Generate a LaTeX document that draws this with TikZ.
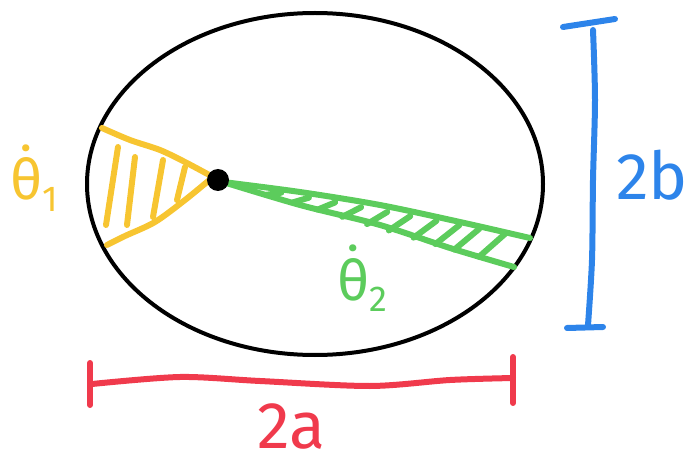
\documentclass[tikz,border=0pt]{standalone}
\usepackage{fontspec}
\setmainfont{Fira Sans}
\usetikzlibrary{calc}
\definecolor{ygold}{HTML}{F7C531}
\definecolor{lgreen}{HTML}{5CCC5C}
\definecolor{mblue}{HTML}{2D84EA}
\definecolor{mred}{HTML}{F03A4C}
\newcommand{\thdot}[1]{\.{θ}\raisebox{-12pt}{\fontsize{36}{36}\selectfont #1}}
\tikzset{
  pen/.style={line width=6pt, line cap=round, line join=round},
  lbl/.style={inner sep=0pt, text depth=0pt, font=\fontsize{66}{66}\selectfont},
  thl/.style={inner sep=0pt, font=\fontsize{56}{56}\selectfont},
}
\begin{document}
\begin{tikzpicture}[x=1pt,y=-1pt]
\useasboundingbox (0,0) rectangle (699,457);
% ellipse
\draw[line width=4pt] (315,184) ellipse [x radius=228, y radius=171];
% yellow triangle
\draw[pen, ygold] plot[smooth] coordinates {(102,128) (130,140) (160,150) (185,162) (213,177)}
  -- plot[smooth] coordinates {(213,177) (185,200) (155,222) (125,236) (107,245)};
\draw[pen, ygold] (118,147) -- (106,225);
\draw[pen, ygold] (135,157) -- (127,225);
\draw[pen, ygold] (163,160) -- (153,217);
\draw[pen, ygold] (185,167) -- (177,200);
% green ladder
\coordinate (gs) at (223,182);
\coordinate (gu) at (530,238);
\coordinate (gl) at (514,267);
\draw[pen, lgreen] plot[smooth] coordinates {(gs) (300,192) (380,205) (460,222) (gu)};
\draw[pen, lgreen] plot[smooth] coordinates {(gs) (300,205) (380,225) (450,248) (gl)};
\foreach \t in {0.17,0.26,0.345,0.43,0.515,0.59,0.675,0.75,0.815,0.9}{
  \draw[pen, lgreen] ($(gs)!\t+0.02!(gu)$) -- ($(gs)!\t-0.02!(gl)$);
}
% black dot
\fill (218,180) circle [radius=11];
\node[thl, ygold, anchor=base west] (t1) at (10,200) {\thdot{1}};
\node[thl, lgreen, anchor=base west] (t2) at (337,300) {\thdot{2}};
% blue bar
\draw[pen, mblue] (563,27) -- (615,19);
\draw[pen, mblue] plot[smooth] coordinates {(593,30) (595,100) (593,180) (592,260) (588,325)};
\draw[pen, mblue] (567,328) -- (603,327);
\node[lbl, mblue, anchor=base west] (b) at (616,200) {2b};
% red bar
\draw[pen, mred] (90,363) -- (90,405);
\draw[pen, mred] (513,357) -- (513,403);
\draw[pen, mred] plot[smooth] coordinates {(92,384) (180,377) (260,381) (370,386) (450,380) (513,378)};
\node[lbl, mred, anchor=base] (a) at (291,448) {2a};
\end{tikzpicture}
\end{document}
